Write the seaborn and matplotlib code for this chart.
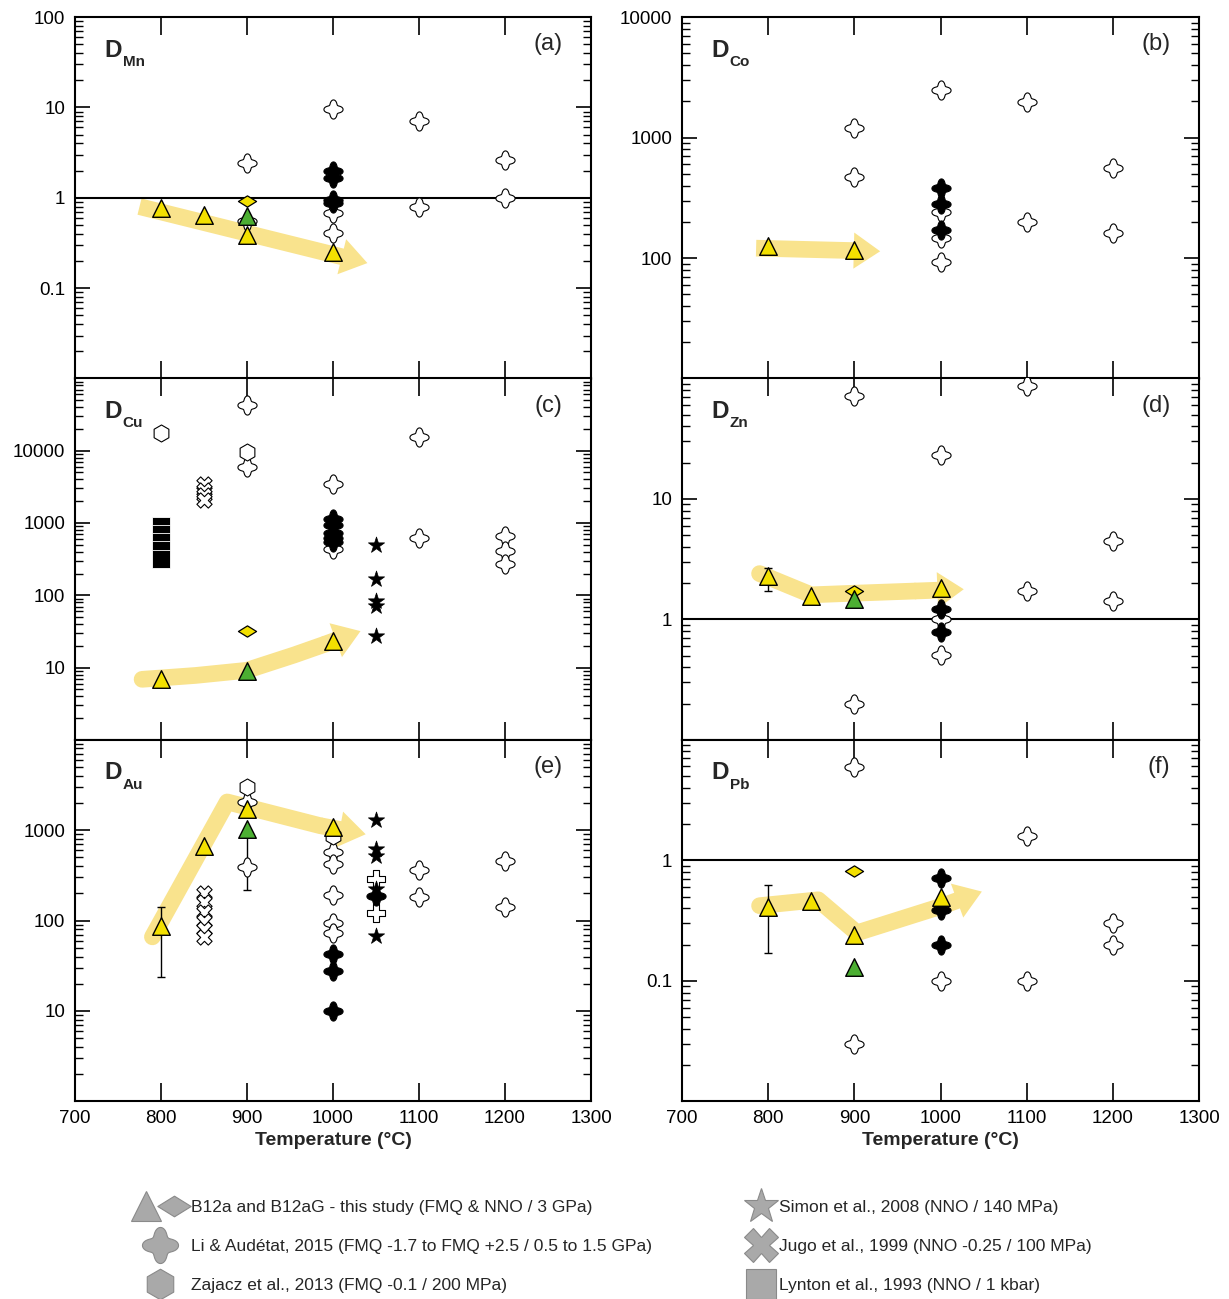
import numpy as np
import pandas as pd
import matplotlib
matplotlib.use("Agg")
import matplotlib.pyplot as plt
import seaborn as sns
from matplotlib.path import Path
from matplotlib.lines import Line2D
from matplotlib.legend_handler import HandlerTuple
from matplotlib.ticker import LogLocator, FuncFormatter, NullFormatter

# ---- values: (temperature in °C, D) ----
# (a) D_Mn
mn_tri_y = [(800, 0.78), (850, 0.65), (900, 0.39), (1000, 0.25)]
mn_tri_g = [(900, 0.63)]
mn_dia = [(900, 0.93)]
mn_open = [(900, 2.4), (900, 0.55), (1000, 9.6), (1000, 0.68), (1000, 0.41),
           (1100, 7.1), (1100, 0.8), (1200, 2.6), (1200, 1.0)]
mn_solid = [(1000, 2.0), (1000, 1.65), (1000, 0.95), (1000, 0.87)]
mn_arrow = [(775, 0.8), (1040, 0.19)]

# (b) D_Co
co_tri_y = [(800, 126), (900, 116)]
co_open = [(900, 1200), (900, 470), (1000, 2480), (1000, 240), (1000, 146), (1000, 93),
           (1100, 1970), (1100, 200), (1200, 560), (1200, 161)]
co_solid = [(1000, 380), (1000, 280), (1000, 170)]
co_arrow = [(786, 121), (930, 114)]

# (c) D_Cu
cu_tri_y = [(800, 7.0), (1000, 23.6)]
cu_tri_g = [(900, 9.1)]
cu_dia = [(900, 32)]
cu_hex = [(800, 17500), (900, 9600)]
cu_open = [(900, 42600), (900, 5900), (1000, 3500), (1000, 440), (1100, 15300),
           (1100, 620), (1200, 660), (1200, 410), (1200, 270)]
cu_solid = [(1000, 1150), (1000, 950), (1000, 720), (1000, 620), (1000, 540)]
cu_star = [(1050, 500), (1050, 170), (1050, 84), (1050, 72), (1050, 27)]
cu_x = [(850, 3500), (850, 2900), (850, 2400), (850, 2050)]
cu_sq = [(800, 900), (800, 700), (800, 540), (800, 420), (800, 320)]
cu_arrow = [(778, 6.9), (840, 7.8), (900, 9.2), (955, 15), (990, 21), (1032, 32)]

# (d) D_Zn
zn_tri_y = [(800, 2.28), (850, 1.55), (1000, 1.81)]
zn_tri_g = [(900, 1.47)]
zn_dia = [(900, 1.71)]
zn_open = [(900, 71), (900, 0.20), (1000, 23), (1000, 1.0), (1000, 0.51),
           (1100, 86), (1100, 1.71), (1200, 4.5), (1200, 1.41)]
zn_solid = [(1000, 1.23), (1000, 0.79)]
zn_err = [(800, 2.28, 1.71, 2.66)]
zn_arrow = [(790, 2.4), (850, 1.6), (900, 1.65), (970, 1.72), (1027, 1.78)]

# (e) D_Au
au_tri_y = [(800, 86), (850, 674), (900, 1730), (1000, 1070)]
au_tri_g = [(900, 1040)]
au_hex = [(900, 3000), (1000, 870)]
au_open = [(900, 2070), (900, 395), (1000, 580), (1000, 425), (1000, 190), (1000, 93),
           (1000, 72), (1100, 360), (1100, 184), (1200, 450), (1200, 143)]
au_plus = [(1050, 290), (1050, 120)]
au_solid = [(1000, 43), (1000, 28), (1000, 10), (1050, 185)]
au_star = [(1050, 1300), (1050, 625), (1050, 520), (1050, 225), (1050, 68)]
au_x = [(850, 200), (850, 160), (850, 125), (850, 100), (850, 80), (850, 65)]
au_err = [(800, 86, 24, 143), (900, 1040, 220, 1040)]
au_arrow = [(790, 66), (877, 2050), (985, 1120), (1038, 900)]

# (f) D_Pb
pb_tri_y = [(800, 0.41), (850, 0.46), (900, 0.24), (1000, 0.50)]
pb_tri_g = [(900, 0.13)]
pb_dia = [(900, 0.81)]
pb_open = [(900, 5.95), (900, 0.030), (1000, 0.10), (1100, 1.58), (1100, 0.10),
           (1200, 0.30), (1200, 0.20)]
pb_solid = [(1000, 0.71), (1000, 0.39), (1000, 0.20)]
pb_err = [(800, 0.41, 0.17, 0.62)]
pb_arrow = [(790, 0.42), (858, 0.47), (903, 0.25), (1003, 0.42), (1048, 0.55)]

temp_ticks = [700, 800, 900, 1000, 1100, 1200, 1300]

# ---- marker shapes ----
th = np.linspace(0, 2 * np.pi, 97)
rr = 0.8 + 0.2 * np.cos(4 * th)
clover = Path(np.column_stack([rr * np.sin(th), rr * np.cos(th)]), closed=True)
flat_dia = Path([(-1, 0), (0, 0.62), (1, 0), (0, -0.62), (-1, 0)], closed=True)

YEL = "#f3e000"
GRN = "#4caf32"
ARROW = "#f9e38d"

sns.set_style("ticks")
plt.rcParams["font.family"] = ["Liberation Sans", "DejaVu Sans"]
plt.rcParams["axes.linewidth"] = 1.5


def scatter(ax, pts, marker, face, edge="black", s=130, lw=0.9, z=4):
    if not pts:
        return
    df = pd.DataFrame(pts, columns=["T", "D"])
    sns.scatterplot(data=df, x="T", y="D", ax=ax, marker=marker, color=face,
                    edgecolor=edge, s=s, linewidth=lw, zorder=z, legend=False)


def arrow(ax, pts):
    xs = [p[0] for p in pts]
    ys = [p[1] for p in pts]
    ax.plot(xs[:-1], ys[:-1], color=ARROW, lw=12, solid_capstyle="round",
            solid_joinstyle="round", zorder=1)
    ax.annotate("", xy=pts[-1], xytext=pts[-2],
                arrowprops=dict(arrowstyle="simple,head_length=0.95,head_width=1.3,tail_width=0.6",
                                mutation_scale=20, color=ARROW, lw=0,
                                shrinkA=0, shrinkB=0), zorder=1)


def errbars(ax, rows):
    for t, v, lo, hi in rows:
        ax.errorbar([t], [v], yerr=[[v - lo], [hi - v]], fmt="none", ecolor="black",
                    elinewidth=1, capsize=3, capthick=1, zorder=3)


panels = [
    dict(el="Mn", tag="(a)", ylim=(0.01, 100), show=[0.1, 1, 10, 100], one=True,
         arrow=mn_arrow, tri_y=mn_tri_y, tri_g=mn_tri_g, dia=mn_dia, open=mn_open, solid=mn_solid),
    dict(el="Co", tag="(b)", ylim=(10, 10000), show=[100, 1000, 10000], one=False,
         arrow=co_arrow, tri_y=co_tri_y, open=co_open, solid=co_solid),
    dict(el="Cu", tag="(c)", ylim=(1, 100000), show=[10, 100, 1000, 10000], one=False,
         arrow=cu_arrow, tri_y=cu_tri_y, tri_g=cu_tri_g, dia=cu_dia, open=cu_open,
         solid=cu_solid, hex=cu_hex, star=cu_star, x=cu_x, sq=cu_sq),
    dict(el="Zn", tag="(d)", ylim=(0.1, 100), show=[1, 10], one=True,
         arrow=zn_arrow, tri_y=zn_tri_y, tri_g=zn_tri_g, dia=zn_dia, open=zn_open,
         solid=zn_solid, err=zn_err),
    dict(el="Au", tag="(e)", ylim=(1, 10000), show=[10, 100, 1000], one=False,
         arrow=au_arrow, tri_y=au_tri_y, tri_g=au_tri_g, open=au_open, plus=au_plus,
         solid=au_solid, hex=au_hex, star=au_star, x=au_x, err=au_err),
    dict(el="Pb", tag="(f)", ylim=(0.01, 10), show=[0.1, 1], one=True,
         arrow=pb_arrow, tri_y=pb_tri_y, tri_g=pb_tri_g, dia=pb_dia, open=pb_open,
         solid=pb_solid, err=pb_err),
]

fig = plt.figure(figsize=(12.29, 12.99), dpi=100)
W, H = 1229, 1299
col_x = [75, 682]
col_w = [516, 517]
row_top = [17, 378.3, 739.7]
ph = 361.7

for i, p in enumerate(panels):
    r, c = divmod(i, 2)
    ax = fig.add_axes([col_x[c] / W, 1 - (row_top[r] + ph) / H, col_w[c] / W, ph / H])
    ax.set_yscale("log")

    arrow(ax, p["arrow"])
    if p["one"]:
        ax.axhline(1, color="black", lw=1.5, zorder=2)
    if "err" in p:
        errbars(ax, p["err"])
    if "sq" in p:
        scatter(ax, p["sq"], "s", "black", edge="white", s=150, lw=0.6, z=3)
    if "x" in p:
        scatter(ax, p["x"], "X", "white", s=120, lw=0.8, z=3)
    scatter(ax, p["open"], clover, "white", s=190, lw=0.8, z=3)
    if "plus" in p:
        scatter(ax, p["plus"], "P", "white", s=150, lw=0.8, z=3)
    if "hex" in p:
        scatter(ax, p["hex"], "h", "white", s=150, lw=0.8, z=3)
    scatter(ax, p["solid"], clover, "black", s=190, lw=0.8, z=4)
    if "star" in p:
        scatter(ax, p["star"], "*", "black", s=150, lw=0.5, z=4)
    if "dia" in p:
        scatter(ax, p["dia"], flat_dia, YEL, s=170, lw=0.9, z=5)
    if "tri_g" in p:
        scatter(ax, p["tri_g"], "^", GRN, s=160, lw=1.0, z=5)
    scatter(ax, p["tri_y"], "^", YEL, s=160, lw=1.0, z=6)

    ax.set_xlim(700, 1300)
    ax.set_ylim(*p["ylim"])
    ax.set_xticks(temp_ticks)
    ax.yaxis.set_major_locator(LogLocator(base=10, numticks=20))
    ax.yaxis.set_minor_locator(LogLocator(base=10, subs=np.arange(2, 10), numticks=40))
    ax.yaxis.set_minor_formatter(NullFormatter())
    show = p["show"]
    ax.yaxis.set_major_formatter(FuncFormatter(
        lambda v, _, show=show: f"{v:g}" if any(np.isclose(v, s) for s in show) else ""))
    ax.tick_params(which="both", direction="in", top=True, right=True,
                   labelsize=13.5, width=1.2, colors="black")
    ax.tick_params(axis="x", which="major", length=13, pad=6)
    ax.tick_params(axis="y", which="major", length=11, pad=7)
    ax.tick_params(axis="y", which="minor", length=5.5, width=1)
    for sp in ax.spines.values():
        sp.set_linewidth(1.5)
        sp.set_color("black")
    ax.set_ylabel("")
    if r == 2:
        ax.set_xlabel("Temperature (°C)", fontsize=14, fontweight="bold", labelpad=4)
    else:
        ax.set_xlabel("")
        ax.set_xticklabels([])

    d = ax.text(0.056, 0.94, "D", transform=ax.transAxes, fontsize=17.5,
                fontweight="bold", va="top", ha="left")
    ax.annotate(p["el"], xy=(1, 0), xycoords=d, xytext=(1, -3), textcoords="offset points",
                fontsize=11, fontweight="bold", va="baseline", ha="left")
    ax.text(0.945, 0.955, p["tag"], transform=ax.transAxes, fontsize=17,
            va="top", ha="right")

# ---- legend ----
GREY = "#a9a9a9"
GEDGE = "#8a8a8a"


def lh(marker, ms=22):
    return Line2D([], [], ls="none", marker=marker, ms=ms, mfc=GREY, mec=GEDGE, mew=0.8)


left_handles = [(lh("^"), lh(flat_dia, 24)), lh(clover, 26), lh("h", 22)]
left_labels = ["B12a and B12aG - this study (FMQ & NNO / 3 GPa)",
               "Li & Audétat, 2015 (FMQ -1.7 to FMQ +2.5 / 0.5 to 1.5 GPa)",
               "Zajacz et al., 2013 (FMQ -0.1 / 200 MPa)"]
right_handles = [lh("*", 26), lh("X", 24), lh("s", 22)]
right_labels = ["Simon et al., 2008 (NNO / 140 MPa)",
                "Jugo et al., 1999 (NNO -0.25 / 100 MPa)",
                "Lynton et al., 1993 (NNO / 1 kbar)"]

common = dict(frameon=False, fontsize=12.5, labelspacing=1.38, borderaxespad=0,
              handletextpad=0.35, loc="upper left")
fig.legend(left_handles, left_labels, bbox_to_anchor=(128 / W, 1 - 1193 / H),
           handlelength=2.9, handler_map={tuple: HandlerTuple(ndivide=None, pad=0.3)},
           **common)
fig.legend(right_handles, right_labels, bbox_to_anchor=(742 / W, 1 - 1193 / H),
           handlelength=1.4, **common)

fig.savefig("out.png", dpi=100)
